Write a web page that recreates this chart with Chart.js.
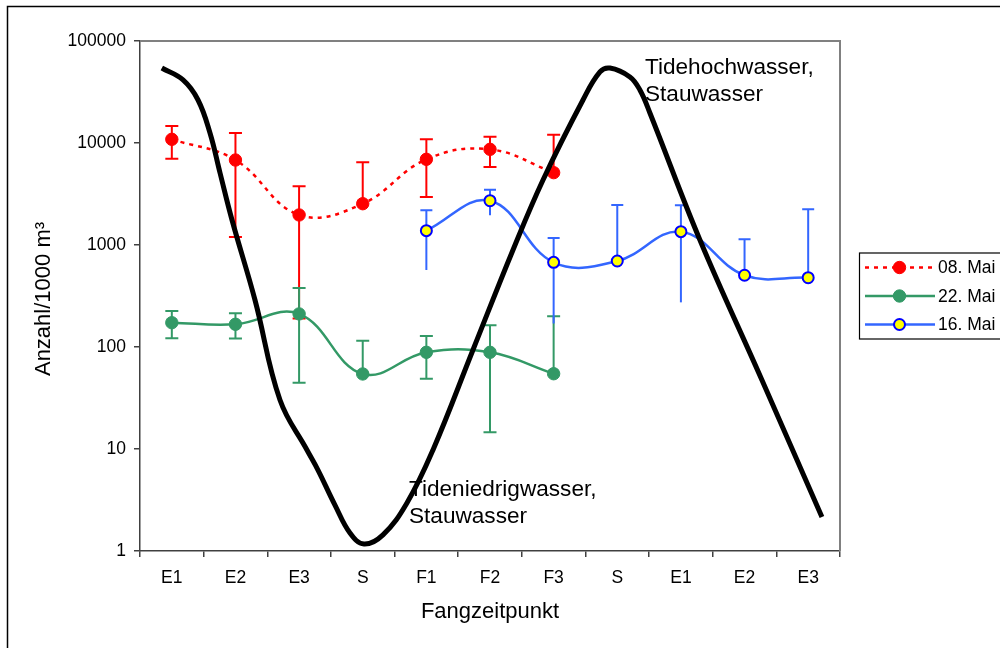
<!DOCTYPE html>
<html><head><meta charset="utf-8">
<style>html,body{margin:0;padding:0;background:#fff;}#wrap{width:1000px;height:648px;position:relative;overflow:hidden}</style>
<script src="https://cdn.jsdelivr.net/npm/chart.js@4/dist/chart.umd.min.js"></script>
</head><body><div id="wrap"><canvas id="c" width="1000" height="648"></canvas></div>
<script>
const categories = ['E1','E2','E3','S','F1','F2','F3','S','E1','E2','E3'];
const yTicks = [1,10,100,1000,10000,100000];

const mai08      = [10870, 6810, 1970, 2540, 6920, 8670, 5120, null, null, null, null];
const mai08Upper = [14690, 12530, 3760, 6470, 10870, 11530, 12070, null, null, null, null];
const mai08Lower = [7020, 1200, 190, null, 2955, 5820, null, null, null, null, null];

const mai22      = [173, 167, 211, 54.4, 88.7, 88.7, 54.7, null, null, null, null];
const mai22Upper = [225, 214, 379, 115, 128, 163, 200, null, null, null, null];
const mai22Lower = [122, 121, 44.7, null, 48.9, 14.6, null, null, null, null, null];

const mai16      = [null, null, null, null, 1383, 2718, 676, 697, 1352, 505, 478];
const mai16Upper = [null, null, null, null, 2190, 3486, 1171, 2466, 2450, 1137, 2238];
const mai16Lower = [null, null, null, null, 569, 1953, 170, null, 274, null, null];

// tide curve (position in category units, value)
const tideX = [-0.157, 0.176, 0.412, 0.600, 0.758, 0.946, 1.307, 1.700, 2.124, 2.297, 2.564, 2.800, 3.020, 3.318, 3.695, 4.104, 4.732, 5.361, 5.833, 6.461, 6.728, 6.885, 7.199, 7.356, 7.513, 8.299, 9.273, 10.216];
const tideY = [54300, 41500, 26400, 12530, 5080, 1758, 289, 30.2, 9.78, 6.22, 2.82, 1.50, 1.17, 1.44, 2.96, 9.8, 93.5, 893, 4340, 26400, 49700, 54300, 44400, 33100, 19700, 1120, 47.5, 2.15];

const FONT = "'Liberation Sans', Arial, sans-serif";
const RED = '#FF0000', GREEN = '#339966', BLUE = '#3366FF';

const errorSeries = [
  {ds: 1, upper: mai08Upper, lower: mai08Lower, color: RED, cap: 13, lowerCap: true},
  {ds: 2, upper: mai22Upper, lower: mai22Lower, color: GREEN, cap: 13, lowerCap: true},
  {ds: 3, upper: mai16Upper, lower: mai16Lower, color: BLUE, cap: 12, lowerCap: false}
];

const errorBars = {
  id: 'errorBars',
  beforeDatasetsDraw(chart) {
    const ctx = chart.ctx, ys = chart.scales.y;
    ctx.save();
    errorSeries.forEach(s => {
      const meta = chart.getDatasetMeta(s.ds);
      const vals = chart.data.datasets[s.ds].data;
      ctx.strokeStyle = s.color; ctx.lineWidth = 2;
      vals.forEach((v, i) => {
        if (v == null) return;
        const px = meta.data[i].x, py = ys.getPixelForValue(v);
        if (s.upper[i] != null) {
          const t = ys.getPixelForValue(s.upper[i]);
          ctx.beginPath(); ctx.moveTo(px, py); ctx.lineTo(px, t);
          ctx.moveTo(px - s.cap/2, t); ctx.lineTo(px + s.cap/2, t); ctx.stroke();
        }
        if (s.lower[i] != null) {
          const b = ys.getPixelForValue(s.lower[i]);
          ctx.beginPath(); ctx.moveTo(px, py); ctx.lineTo(px, b);
          if (s.lowerCap) { ctx.moveTo(px - s.cap/2, b); ctx.lineTo(px + s.cap/2, b); }
          ctx.stroke();
        }
      });
    });
    ctx.restore();
  }
};

const decor = {
  id: 'decor',
  afterDraw(chart) {
    const ctx = chart.ctx, a = chart.chartArea;
    ctx.save();
    // outer frame
    ctx.strokeStyle = '#000'; ctx.lineWidth = 1.5;
    ctx.strokeRect(7.5, 6.5, 1100, 700);
    // top/right plot border
    ctx.strokeStyle = '#808080'; ctx.lineWidth = 2;
    ctx.beginPath(); ctx.moveTo(a.left, a.top); ctx.lineTo(a.right, a.top); ctx.lineTo(a.right, a.bottom); ctx.stroke();
    // annotations
    ctx.fillStyle = '#000'; ctx.font = '22.6px ' + FONT; ctx.textBaseline = 'alphabetic'; ctx.textAlign = 'left';
    ctx.fillText('Tidehochwasser,', 645, 74);
    ctx.fillText('Stauwasser', 645, 101);
    ctx.fillText('Tideniedrigwasser,', 409, 496);
    ctx.fillText('Stauwasser', 409, 523);
    // axis titles
    ctx.font = '22px ' + FONT;
    ctx.textAlign = 'center'; ctx.textBaseline = 'middle';
    ctx.fillText('Fangzeitpunkt', (a.left + a.right) / 2, 612);
    ctx.save(); ctx.translate(44, 299); ctx.rotate(-Math.PI / 2);
    ctx.fillText('Anzahl/1000 m³', 0, 0); ctx.restore();
    // legend
    ctx.strokeStyle = '#000'; ctx.lineWidth = 1.2;
    ctx.strokeRect(859.5, 253, 160, 86);
    const items = [1, 2, 3];
    const ys = [267.5, 296, 324.5];
    items.forEach((di, k) => {
      const ds = chart.data.datasets[di];
      const y = ys[k];
      ctx.save();
      ctx.strokeStyle = ds.borderColor; ctx.lineWidth = ds.borderWidth;
      ctx.setLineDash(ds.borderDash || []);
      ctx.beginPath(); ctx.moveTo(865, y); ctx.lineTo(935, y); ctx.stroke();
      ctx.setLineDash([]);
      ctx.beginPath(); ctx.arc(899.5, y, ds.pointRadius, 0, Math.PI * 2);
      ctx.fillStyle = ds.pointBackgroundColor; ctx.fill();
      ctx.lineWidth = ds.pointBorderWidth; ctx.strokeStyle = ds.pointBorderColor; ctx.stroke();
      ctx.restore();
      ctx.fillStyle = '#000'; ctx.font = '17.5px ' + FONT; ctx.textAlign = 'left'; ctx.textBaseline = 'middle';
      ctx.fillText(ds.label, 938, y + 1);
    });
    ctx.restore();
  }
};

new Chart(document.getElementById('c'), {
  type: 'line',
  data: {
    labels: categories,
    datasets: [
      {label: 'Tide', xAxisID: 'x2', data: tideX.map((x, i) => ({x: x, y: tideY[i]})),
       borderColor: '#000', borderWidth: 5, pointRadius: 0, tension: 0.4, fill: false, order: 0},
      {label: '08. Mai', xAxisID: 'x', data: mai08, borderColor: RED, borderWidth: 2.5, borderDash: [4, 5],
       pointRadius: 6.2, pointBackgroundColor: RED, pointBorderColor: RED, pointBorderWidth: 1, tension: 0.4, order: 1},
      {label: '22. Mai', xAxisID: 'x', data: mai22, borderColor: GREEN, borderWidth: 2.5,
       pointRadius: 6.2, pointBackgroundColor: GREEN, pointBorderColor: GREEN, pointBorderWidth: 1, tension: 0.4, order: 2},
      {label: '16. Mai', xAxisID: 'x', data: mai16, borderColor: BLUE, borderWidth: 2.5,
       pointRadius: 5.5, pointBackgroundColor: '#FFFF00', pointBorderColor: '#0000FF', pointBorderWidth: 2, tension: 0.4, order: 3}
    ]
  },
  options: {
    responsive: false, animation: false, devicePixelRatio: 1,
    layout: {padding: {top: 41, right: 160, left: 0, bottom: 0}},
    plugins: {legend: {display: false}, tooltip: {enabled: false}},
    scales: {
      x: {type: 'category', offset: true,
          grid: {offset: true, drawOnChartArea: false, drawTicks: true, tickLength: 6, color: '#404040', lineWidth: 1.5},
          border: {display: true, color: '#404040', width: 1.5},
          ticks: {font: {family: FONT, size: 17.5}, color: '#000', padding: 11, maxRotation: 0, autoSkip: false},
          afterFit(s) { s.height = 97; }},
      x2: {type: 'linear', min: -0.5, max: 10.5, display: false},
      y: {type: 'logarithmic', min: 1, max: 100000,
          afterBuildTicks(s) { s.ticks = yTicks.map(v => ({value: v})); },
          grid: {drawOnChartArea: false, drawTicks: true, tickLength: 6, color: '#404040', lineWidth: 1.5},
          border: {display: true, color: '#404040', width: 1.5},
          ticks: {font: {family: FONT, size: 17.5}, color: '#000', padding: 8, callback: v => String(v)},
          afterFit(s) { s.width = 140; }}
    }
  },
  plugins: [errorBars, decor]
});
</script></body></html>
